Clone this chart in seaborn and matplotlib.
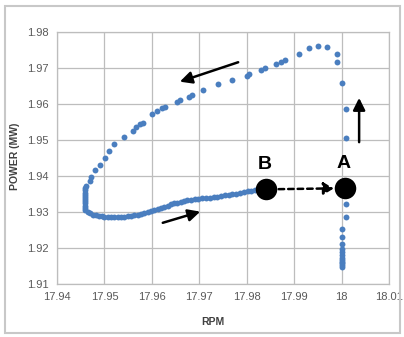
import matplotlib
matplotlib.use("Agg")
import matplotlib.pyplot as plt
import seaborn as sns
import pandas as pd
from matplotlib.patches import Rectangle

# Turbine trajectory: rise at 18.00 RPM, sweep back along the top, return along the bottom
rise_rpm = [18.0000, 18.0000, 18.0000, 18.0000, 18.0000, 18.0000, 18.0000, 18.0000,
            18.0000, 18.0000, 18.0000, 18.0000, 18.0009, 18.0009, 18.0008, 18.0009,
            18.0009, 18.0000, 17.9990, 17.9990]
rise_power = [1.9148, 1.9152, 1.9157, 1.9162, 1.9167, 1.9173, 1.9180, 1.9188,
              1.9197, 1.9210, 1.9231, 1.9253, 1.9287, 1.9321, 1.9368, 1.9505,
              1.9586, 1.9659, 1.9718, 1.9739]

top_rpm = [17.9970, 17.9950, 17.9931, 17.9910, 17.9880, 17.9872, 17.9862, 17.9839,
           17.9830, 17.9805, 17.9800, 17.9770, 17.9740, 17.9708, 17.9684, 17.9679,
           17.9659, 17.9652, 17.9628, 17.9621, 17.9610, 17.9600, 17.9581, 17.9574,
           17.9567, 17.9560, 17.9541, 17.9521, 17.9510, 17.9501, 17.9491, 17.9480,
           17.9471, 17.9470, 17.9461]
top_power = [1.9757, 1.9761, 1.9755, 1.9739, 1.9722, 1.9717, 1.9710, 1.9699,
             1.9694, 1.9682, 1.9679, 1.9667, 1.9655, 1.9639, 1.9625, 1.9620,
             1.9611, 1.9606, 1.9592, 1.9588, 1.9581, 1.9572, 1.9548, 1.9544,
             1.9537, 1.9526, 1.9508, 1.9489, 1.9470, 1.9449, 1.9431, 1.9417,
             1.9398, 1.9387, 1.9372]

drop_rpm = [17.9459] * 11
drop_power = [1.9366, 1.9360, 1.9354, 1.9348, 1.9342, 1.9336, 1.9330, 1.9324,
              1.9318, 1.9312, 1.9306]

bottom_rpm = [17.9465, 17.9470, 17.9476, 17.9482, 17.9488, 17.9494, 17.9500, 17.9507,
              17.9514, 17.9521, 17.9528, 17.9535, 17.9542, 17.9549, 17.9556, 17.9563,
              17.9570, 17.9577, 17.9584, 17.9591, 17.9598, 17.9605, 17.9612, 17.9619,
              17.9626, 17.9633, 17.9640, 17.9647, 17.9654, 17.9661, 17.9668, 17.9675,
              17.9682, 17.9690, 17.9698, 17.9706, 17.9714, 17.9722, 17.9730, 17.9738,
              17.9746, 17.9754, 17.9762, 17.9770, 17.9778, 17.9786, 17.9794, 17.9802,
              17.9810, 17.9818, 17.9826, 17.9834]
bottom_power = [1.9299, 1.9296, 1.9293, 1.9291, 1.9289, 1.9288, 1.9287, 1.9286,
                1.9285, 1.9285, 1.9285, 1.9286, 1.9287, 1.9288, 1.9289, 1.9291,
                1.9293, 1.9295, 1.9298, 1.9300, 1.9303, 1.9306, 1.9309, 1.9312,
                1.9315, 1.9318, 1.9321, 1.9324, 1.9326, 1.9328, 1.9330, 1.9332,
                1.9333, 1.9335, 1.9336, 1.9338, 1.9339, 1.9340, 1.9341, 1.9343,
                1.9344, 1.9346, 1.9347, 1.9349, 1.9351, 1.9353, 1.9355, 1.9357,
                1.9359, 1.9361, 1.9363, 1.9364]

# Operating points
point_labels = ["B", "A"]
point_rpm = [17.9841, 18.0007]
point_power = [1.9363, 1.9366]

x_ticks = [17.94, 17.95, 17.96, 17.97, 17.98, 17.99, 18.00, 18.01]
x_tick_labels = ["17.94", "17.95", "17.96", "17.97", "17.98", "17.99", "18", "18.01"]
y_ticks = [1.91, 1.92, 1.93, 1.94, 1.95, 1.96, 1.97, 1.98]

df = pd.DataFrame({
    "rpm": rise_rpm + top_rpm + drop_rpm + bottom_rpm,
    "power": rise_power + top_power + drop_power + bottom_power,
})
pts = pd.DataFrame({"label": point_labels, "rpm": point_rpm, "power": point_power})

sns.set_theme(style="white")
plt.rcParams["font.family"] = ["Liberation Sans", "DejaVu Sans"]

fig = plt.figure(figsize=(4.04, 3.37), dpi=100)
ax = fig.add_axes([57 / 404, 1 - 284 / 337, (389 - 57) / 404, (284 - 32) / 337])

grid_c = "#bdbdbd"
ax.set_axisbelow(True)
ax.grid(True, color=grid_c, linewidth=0.9)
for s in ax.spines.values():
    s.set_color(grid_c)
    s.set_linewidth(0.9)

sns.scatterplot(data=df, x="rpm", y="power", ax=ax, color="#4a7ebf",
                s=18, linewidth=0, zorder=3)

# Dashed jump from B to A
ax.annotate("", xy=(pts.rpm[1], pts.power[1]), xytext=(pts.rpm[0], pts.power[0]),
            arrowprops=dict(arrowstyle="-|>,head_length=0.5,head_width=0.3",
                            color="black", lw=1.8, linestyle=(0, (2.2, 1.6)),
                            shrinkA=9, shrinkB=8),
            zorder=4)

sns.scatterplot(data=pts, x="rpm", y="power", ax=ax, color="black",
                s=240, linewidth=0, zorder=5)
for _, r in pts.iterrows():
    ax.text(r.rpm - 0.0002, r.power + 0.0070, r.label, ha="center", va="center",
            fontsize=14, fontweight="bold", color="black", zorder=6)

# Direction arrows
arrow_kw = dict(arrowstyle="-|>,head_length=0.6,head_width=0.3", color="black",
                lw=1.8, shrinkA=0, shrinkB=0)
ax.annotate("", xy=(17.9702, 1.9301), xytext=(17.9623, 1.9270), arrowprops=arrow_kw)
ax.annotate("", xy=(17.9659, 1.9662), xytext=(17.9782, 1.9716), arrowprops=arrow_kw)
ax.annotate("", xy=(18.0037, 1.9617), xytext=(18.0037, 1.9494), arrowprops=arrow_kw)

ax.set_xlim(17.94, 18.01)
ax.set_ylim(1.91, 1.98)
ax.set_xticks(x_ticks)
ax.set_xticklabels(x_tick_labels)
ax.set_yticks(y_ticks)
ax.set_yticklabels([f"{v:.2f}" for v in y_ticks])
ax.tick_params(axis="both", length=0, labelsize=8, labelcolor="#595959", pad=6)
ax.set_xlabel("")
ax.set_ylabel("")

fig.text(213 / 404, 1 - 322 / 337, "RPM", ha="center", va="center",
         fontsize=7.5, fontweight="bold", color="#404040")
fig.text(15 / 404, 1 - 156 / 337, "POWER (MW)", ha="center", va="center",
         rotation=90, fontsize=7.5, fontweight="bold", color="#404040")

# Chart frame
fig.patches.append(Rectangle((5 / 404, 1 - 333 / 337), 395 / 404, 327 / 337,
                             transform=fig.transFigure, fill=False,
                             edgecolor="#c8c8c8", linewidth=1.5, zorder=0))

fig.savefig("out.png", dpi=100)
